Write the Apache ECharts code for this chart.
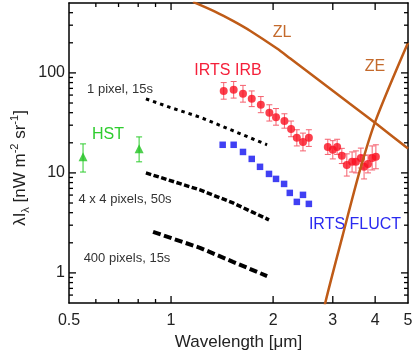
<!DOCTYPE html>
<html>
<head>
<meta charset="utf-8">
<script src="https://cdn.jsdelivr.net/npm/echarts@6/dist/echarts.min.js"></script>
<style>
  html, body { margin: 0; padding: 0; background: #fff; }
  #main { width: 416px; height: 357px; }
</style>
</head>
<body>
<div id="main"></div>
<script>
// wavelength in um, brightness in nW m^-2 sr^-1
const zlWave = [1.161, 1.348, 1.523, 1.71, 2.054, 2.243, 2.695, 3.37, 4.05, 5.0]
const zlValue = [513, 410, 331, 264, 175, 140, 87.5, 49.1, 30.6, 17.5]

const zeWave = [2.80, 2.85, 3.20, 3.61, 4.0, 5.0]
const zeValue = [0.35, 0.5, 2.29, 10.7, 32.4, 200]

const irbWave = [1.43, 1.53, 1.63, 1.73, 1.84, 1.95, 2.04, 2.16, 2.26, 2.35, 2.45, 2.55,
  2.90, 3.00, 3.09, 3.19, 3.30, 3.42, 3.51, 3.63, 3.71, 3.81, 3.92, 4.02]
const irbValue = [66, 68, 62, 55, 48, 40, 36, 33, 27.5, 22.4, 20.4, 22.4,
  18.2, 17.0, 18.2, 14.8, 12.0, 12.9, 12.9, 14.1, 11.5, 12.3, 14.1, 14.5]
const irbLow = [54.6, 56, 51, 46, 40, 33, 30, 28, 23, 18.6, 16.6, 18.4,
  15.3, 13.8, 15.3, 12.4, 9.3, 10.2, 10, 11.2, 8.7, 10, 10.7, 11]
const irbHigh = [80, 82, 75, 66, 58, 48, 44, 39, 33, 27, 25, 27,
  21.7, 21, 21.7, 17.6, 15.5, 16.2, 16.6, 17.7, 15, 15.1, 18.6, 19.1]

const fluctWave = [1.42, 1.53, 1.63, 1.73, 1.83, 1.945, 2.04, 2.155, 2.24, 2.35, 2.45, 2.55]
const fluctValue = [19.1, 19.1, 16.2, 13.8, 11.5, 9.77, 8.71, 7.76, 6.31, 5.13, 6.03, 4.90]

const hstWave = [0.55, 0.805]
const hstValue = [14.5, 17.4]
const hstLow = [10.2, 12.9]
const hstHigh = [19.5, 22.9]

// sensitivity limits
const pix1Wave = [0.843, 0.993, 1.217, 1.523, 1.92]
const pix1Value = [55, 45.2, 36.1, 26.4, 19.1]
const pix16Wave = [0.843, 1.217, 1.523, 1.945]
const pix16Value = [10, 6.76, 5.01, 3.39]
const pix400Wave = [0.885, 1.217, 1.523, 1.92]
const pix400Value = [2.57, 1.78, 1.29, 0.93]

const xRange = [0.5, 5]
const yRange = [0.5, 500]
const xLabels = [0.5, 1, 2, 3, 4, 5]
const xMajor = [1, 2, 3, 4]
const xMinor = [0.6, 0.7, 0.8, 0.9]
const yLabels = [1, 10, 100]
const yMinor = [0.6, 0.7, 0.8, 0.9, 2, 3, 4, 5, 6, 7, 8, 9,
  20, 30, 40, 50, 60, 70, 80, 90, 200, 300, 400]

const font = '"Liberation Sans", Arial, sans-serif'
const brown = '#bf5b17'

const pairs = (xs, ys) => xs.map((x, i) => [x, ys[i]])
const bars = (xs, lo, hi) => xs.map((x, i) => [x, lo[i], hi[i]])

function errorBar(params, api) {
  const x = api.value(0)
  const lo = api.coord([x, api.value(1)])
  const hi = api.coord([x, api.value(2)])
  const w = 3
  const style = { stroke: api.visual('color'), lineWidth: 1 }
  return {
    type: 'group',
    children: [
      { type: 'line', shape: { x1: lo[0], y1: lo[1], x2: hi[0], y2: hi[1] }, style },
      { type: 'line', shape: { x1: lo[0] - w, y1: lo[1], x2: lo[0] + w, y2: lo[1] }, style },
      { type: 'line', shape: { x1: hi[0] - w, y1: hi[1], x2: hi[0] + w, y2: hi[1] }, style }
    ]
  }
}

// inward ticks on both opposite edges, one custom series per axis/size
function xTicks(len) {
  return function (params, api) {
    const bottom = api.coord([api.value(0), yRange[0]])
    const top = api.coord([api.value(0), yRange[1]])
    const style = { stroke: '#000', lineWidth: 1.3 }
    return {
      type: 'group',
      children: [
        { type: 'line', shape: { x1: bottom[0], y1: bottom[1], x2: bottom[0], y2: bottom[1] - len }, style },
        { type: 'line', shape: { x1: top[0], y1: top[1], x2: top[0], y2: top[1] + len }, style }
      ]
    }
  }
}

function yTicks(len) {
  return function (params, api) {
    const left = api.coord([xRange[0], api.value(1)])
    const right = api.coord([xRange[1], api.value(1)])
    const style = { stroke: '#000', lineWidth: 1.3 }
    return {
      type: 'group',
      children: [
        { type: 'line', shape: { x1: left[0], y1: left[1], x2: left[0] + len, y2: left[1] }, style },
        { type: 'line', shape: { x1: right[0], y1: right[1], x2: right[0] - len, y2: right[1] }, style }
      ]
    }
  }
}

function tickSeries(render, data) {
  return {
    type: 'custom', renderItem: render, silent: true, clip: false, z: 10,
    encode: { x: 0, y: 1 }, data: data
  }
}

function frameAxis(opt) {
  return Object.assign({
    type: 'log',
    splitLine: { show: false },
    axisLine: { show: true, onZero: false, lineStyle: { color: '#000', width: 1.5 } },
    axisTick: { show: false },
    axisLabel: { show: false }
  }, opt)
}

const chart = echarts.init(document.getElementById('main'))

chart.setOption({
  animation: false,
  grid: { left: 69, right: 8, top: 3, bottom: 54 },
  xAxis: [
    frameAxis({
      position: 'bottom', min: xRange[0], max: xRange[1],
      axisLabel: {
        show: true, customValues: xLabels, margin: 10, color: '#222',
        fontSize: 16, fontFamily: font, formatter: v => String(v)
      },
      name: 'Wavelength [μm]',
      nameLocation: 'middle',
      nameGap: 31,
      nameTextStyle: { fontSize: 17, fontFamily: font, color: '#222' }
    }),
    frameAxis({ position: 'top', min: xRange[0], max: xRange[1] })
  ],
  yAxis: [
    frameAxis({
      position: 'left', min: yRange[0], max: yRange[1],
      axisLabel: {
        show: true, customValues: yLabels, margin: 4, color: '#222',
        fontSize: 16, fontFamily: font, formatter: v => String(v)
      }
    }),
    frameAxis({ position: 'right', min: yRange[0], max: yRange[1] })
  ],
  series: [
    {
      name: '1 pixel, 15s', type: 'line', showSymbol: false, symbol: 'none',
      data: pairs(pix1Wave, pix1Value),
      lineStyle: { color: '#000', width: 3, type: [3.5, 4], cap: 'butt' }
    },
    {
      name: '4 x 4 pixels, 50s', type: 'line', showSymbol: false, symbol: 'none',
      data: pairs(pix16Wave, pix16Value),
      lineStyle: { color: '#000', width: 3.5, type: [5.5, 2.5], cap: 'butt' }
    },
    {
      name: '400 pixels, 15s', type: 'line', showSymbol: false, symbol: 'none',
      data: pairs(pix400Wave, pix400Value),
      lineStyle: { color: '#000', width: 4, type: [8, 3.5], cap: 'butt' }
    },
    {
      name: 'HST err', type: 'custom', renderItem: errorBar,
      itemStyle: { color: '#2ecc2e' },
      encode: { x: 0, y: [1, 2] },
      data: bars(hstWave, hstLow, hstHigh)
    },
    {
      name: 'HST', type: 'scatter', symbol: 'triangle', symbolSize: 9,
      itemStyle: { color: '#22c322' },
      data: pairs(hstWave, hstValue)
    },
    {
      name: 'IRB err', type: 'custom', renderItem: errorBar,
      itemStyle: { color: '#f5606e' },
      encode: { x: 0, y: [1, 2] },
      data: bars(irbWave, irbLow, irbHigh)
    },
    {
      name: 'IRTS IRB', type: 'scatter', symbol: 'circle', symbolSize: 8,
      itemStyle: { color: '#fa1020' },
      data: pairs(irbWave, irbValue)
    },
    {
      name: 'IRTS FLUCT', type: 'scatter', symbol: 'rect', symbolSize: 6.5,
      itemStyle: { color: '#1010f0' },
      data: pairs(fluctWave, fluctValue)
    },
    {
      name: 'ZL', type: 'line', smooth: 0.25, showSymbol: false, symbol: 'none',
      data: pairs(zlWave, zlValue),
      lineStyle: { color: brown, width: 2.5 }
    },
    {
      name: 'ZE', type: 'line', smooth: 0.3, showSymbol: false, symbol: 'none',
      data: pairs(zeWave, zeValue),
      lineStyle: { color: brown, width: 2.5 }
    },
    tickSeries(xTicks(7), xMajor.map(v => [v, yRange[0]])),
    tickSeries(xTicks(4), xMinor.map(v => [v, yRange[0]])),
    tickSeries(yTicks(7), yLabels.map(v => [xRange[0], v])),
    tickSeries(yTicks(4), yMinor.map(v => [xRange[0], v]))
  ],
  graphic: [
    { type: 'text', x: 120, y: 89, style: { text: '1 pixel, 15s', fill: '#333', font: '13px ' + font, align: 'center', verticalAlign: 'middle' } },
    { type: 'text', x: 125, y: 199, style: { text: '4 x 4 pixels, 50s', fill: '#333', font: '13px ' + font, align: 'center', verticalAlign: 'middle' } },
    { type: 'text', x: 127, y: 258, style: { text: '400 pixels, 15s', fill: '#333', font: '13px ' + font, align: 'center', verticalAlign: 'middle' } },
    { type: 'text', x: 108, y: 135, style: { text: 'HST', fill: '#2ecc2e', font: '16px ' + font, align: 'center', verticalAlign: 'middle' } },
    { type: 'text', x: 228, y: 71, style: { text: 'IRTS IRB', fill: '#f5203a', font: '16px ' + font, align: 'center', verticalAlign: 'middle' } },
    { type: 'text', x: 355, y: 225, style: { text: 'IRTS FLUCT', fill: '#2a2af0', font: '16px ' + font, align: 'center', verticalAlign: 'middle' } },
    { type: 'text', x: 282, y: 33, style: { text: 'ZL', fill: '#c46a2c', font: '16px ' + font, align: 'center', verticalAlign: 'middle' } },
    { type: 'text', x: 375, y: 67, style: { text: 'ZE', fill: '#c46a2c', font: '16px ' + font, align: 'center', verticalAlign: 'middle' } },
    {
      type: 'text', x: 20, y: 168, rotation: Math.PI / 2,
      style: {
        text: '{a|λI}{sub|λ}{a| [nW m}{sup|-2}{a| sr}{sup|-1}{a|]}',
        fill: '#222', align: 'center', verticalAlign: 'middle',
        rich: {
          a: { fontSize: 17, fontFamily: font, lineHeight: 22, verticalAlign: 'middle', fill: '#222' },
          sup: { fontSize: 11, fontFamily: font, lineHeight: 12, verticalAlign: 'top', fill: '#222' },
          sub: { fontSize: 11, fontFamily: font, lineHeight: 12, verticalAlign: 'bottom', fill: '#222' }
        }
      }
    }
  ]
})
</script>
</body>
</html>
